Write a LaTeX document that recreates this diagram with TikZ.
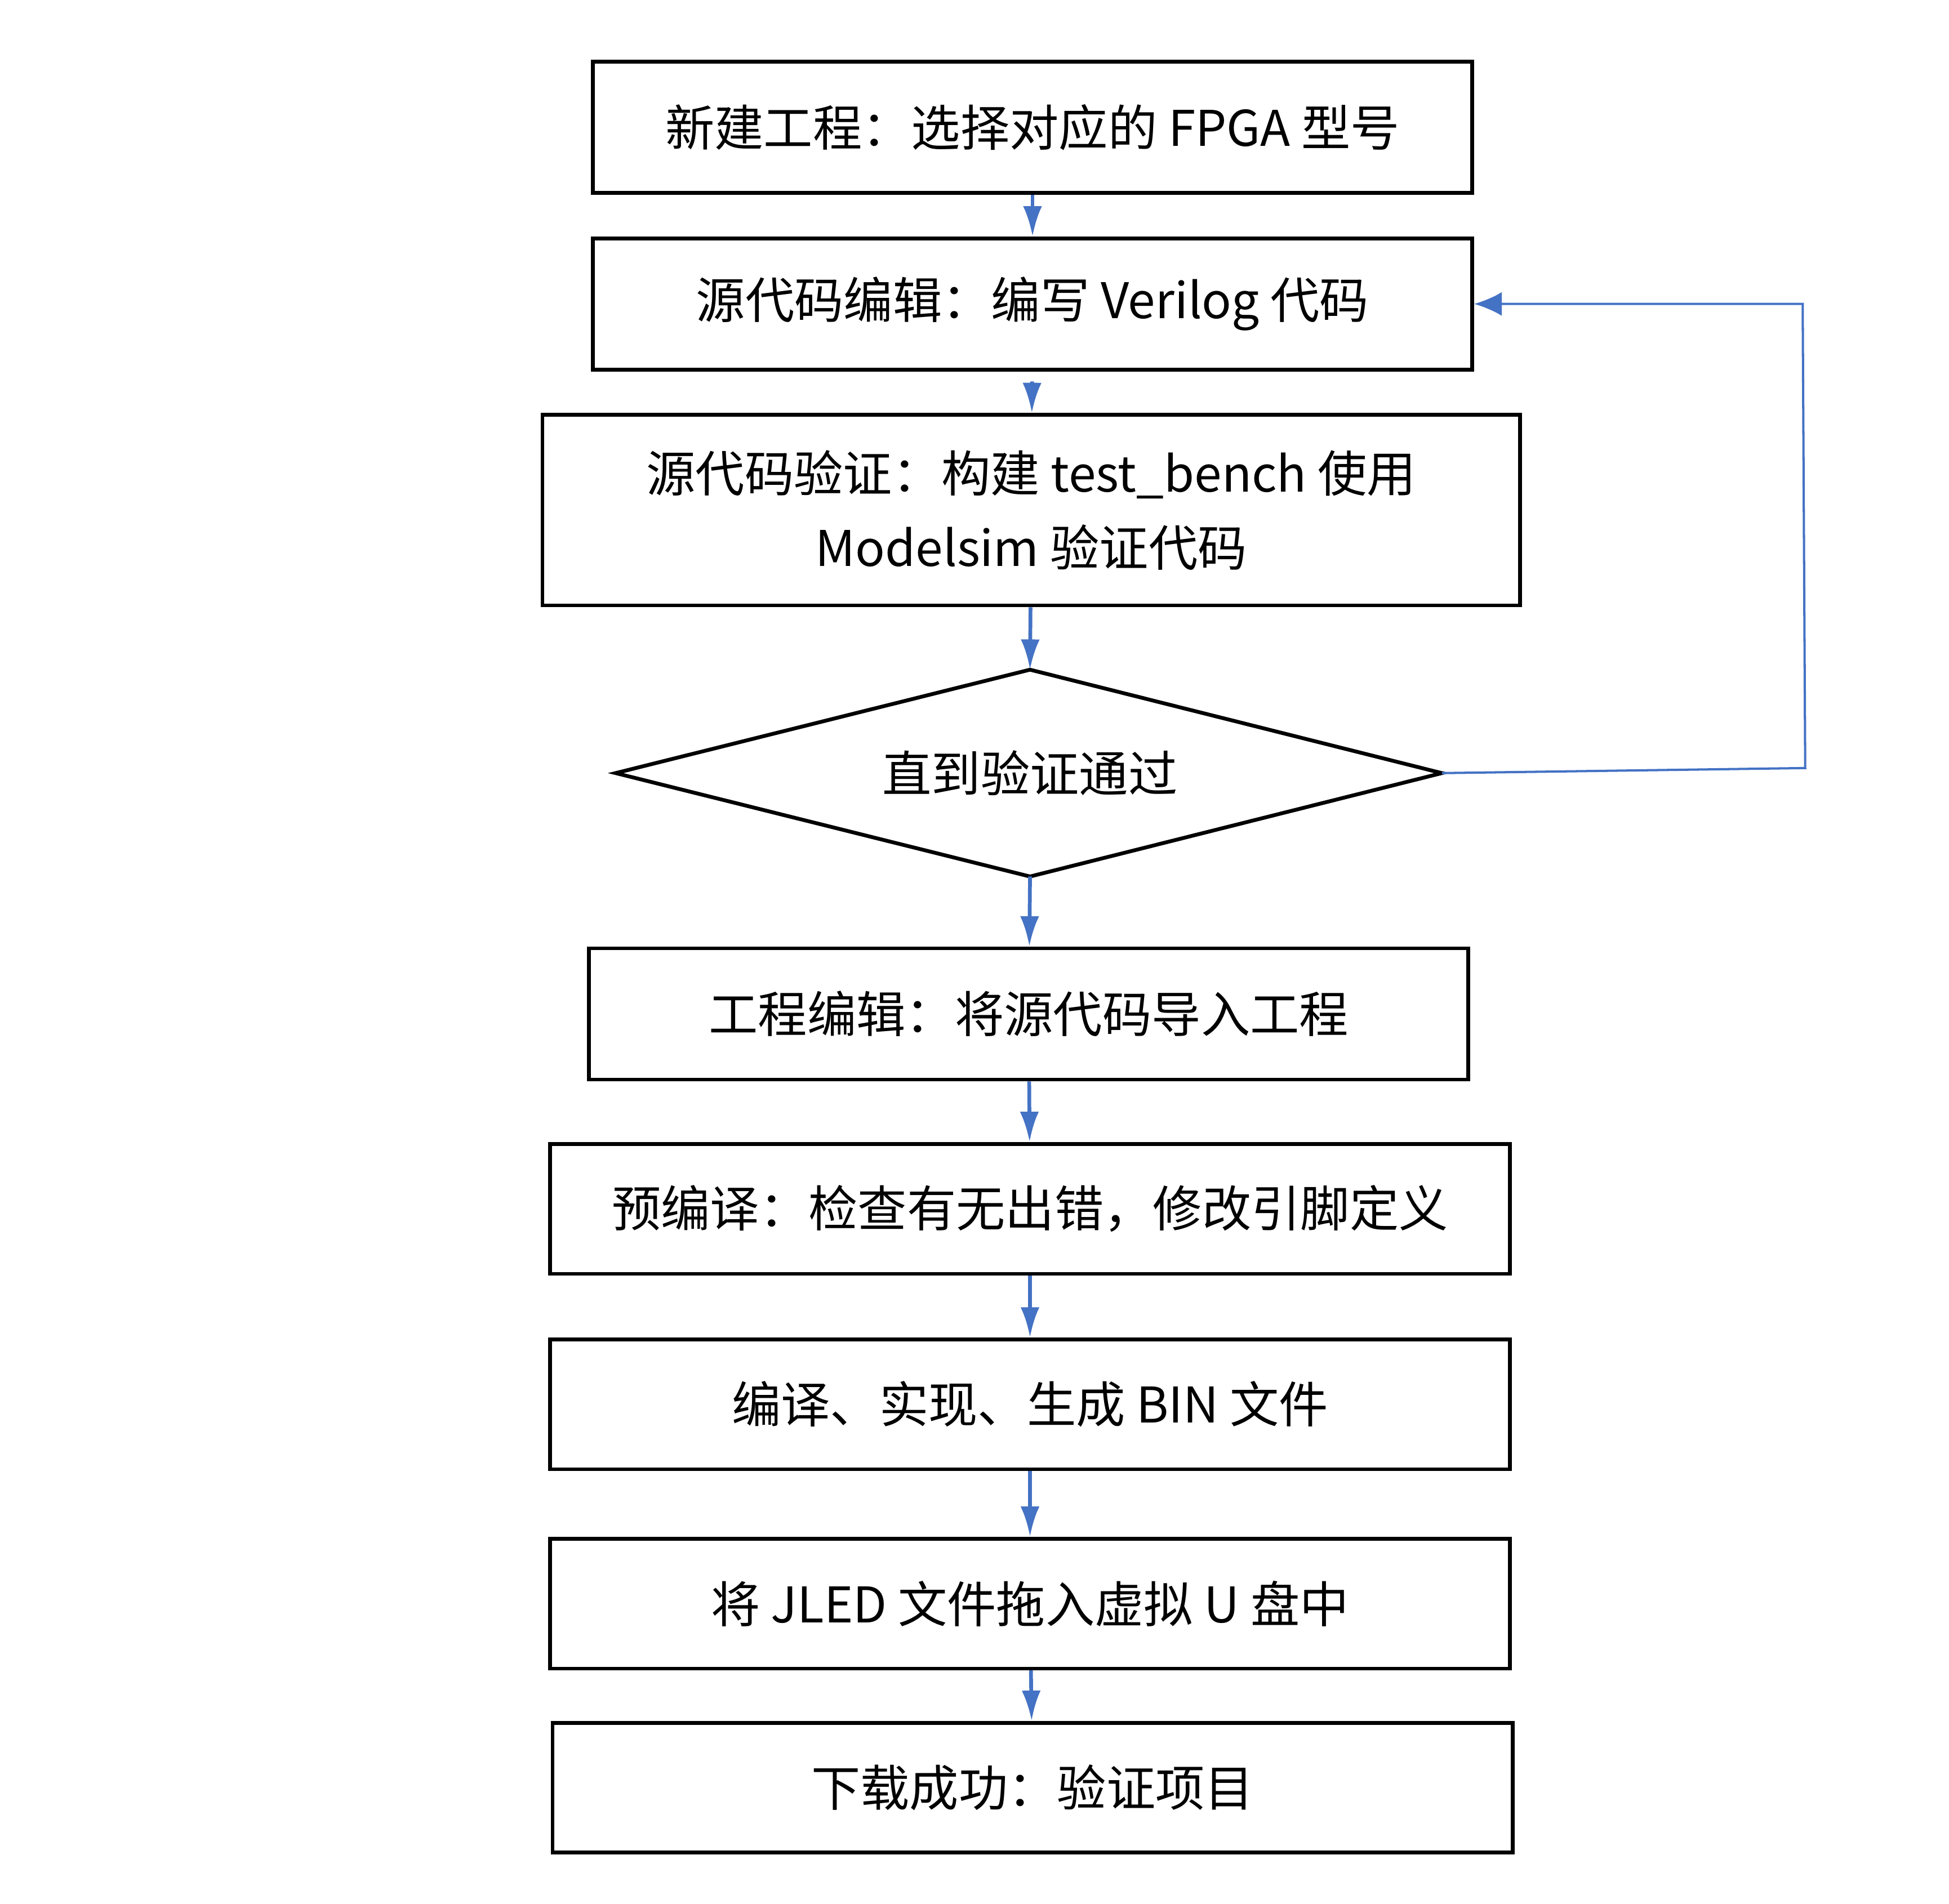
\documentclass[tikz,border=0pt]{standalone}
\usepackage{fontspec}
\setmainfont{Noto Sans CJK SC}
\usetikzlibrary{shapes.geometric,arrows.meta}
\definecolor{flowblue}{HTML}{4472C4}
\begin{document}
\begin{tikzpicture}[x=1pt,y=-1pt,
  stepbox/.style={draw=black,line width=3pt,rectangle,inner sep=0pt,align=center,
    font=\fontsize{39}{59}\selectfont},
  labeltext/.style={inner sep=0pt,align=center,font=\fontsize{39}{59}\selectfont},
  flow/.style={draw=flowblue,line width=3pt,-{Latex[length=24pt,width=15pt]}},
  back/.style={draw=flowblue,line width=1.8pt,-{Latex[length=22pt,width=19pt]}}]
\useasboundingbox (0,0) rectangle (1545,1509.7);
\node[stepbox,minimum width=697pt,minimum height=104pt] (b1) at (818.5,101) {新建工程：选择对应的 FPGA 型号};
\node[stepbox,minimum width=697pt,minimum height=104pt] (b2) at (818.5,241) {源代码编辑：编写 Verilog 代码};
\node[stepbox,minimum width=775pt,minimum height=151pt] (b3) at (817.5,404.5) {源代码验证：构建 test\_bench 使用\\Modelsim 验证代码};
% decision diamond
\coordinate (dT) at (816.5,531);
\coordinate (dB) at (816.5,695);
\coordinate (dL) at (488,613);
\coordinate (dR) at (1143,613);
\draw[black,line width=3pt,line join=miter] (dT) -- (dR) -- (dB) -- (dL) -- cycle;
\node[labeltext] (d) at (816.5,613) {直到验证通过};
\node[stepbox,minimum width=697pt,minimum height=104pt] (b4) at (815.5,804) {工程编辑：将源代码导入工程};
\node[stepbox,minimum width=761pt,minimum height=103pt] (b5) at (816.5,958.5) {预编译：检查有无出错，修改引脚定义};
\node[stepbox,minimum width=761pt,minimum height=103pt] (b6) at (816.5,1113.5) {编译、实现、生成 BIN 文件};
\node[stepbox,minimum width=761pt,minimum height=103pt] (b7) at (816.5,1271.5) {将 JLED 文件拖入虚拟 U 盘中};
\node[stepbox,minimum width=761pt,minimum height=103pt] (b8) at (818.5,1417.5) {下载成功：验证项目};
\coordinate (fb1) at (1431,609);
\coordinate (fb2) at (1429,241);
\draw[flow] (b1) -- (b2);
\draw[flow,shorten <=8pt] (b2) -- (b3);
\draw[flow] (b3) -- (dT);
\draw[flow] (dB) -- (b4);
\draw[flow] (b4) -- (b5);
\draw[flow] (b5) -- (b6);
\draw[flow] (b6) -- (b7);
\draw[flow] (b7) -- (b8);
\draw[back] (dR) -- (fb1) -- (fb2) -- (b2.east);
\end{tikzpicture}
\end{document}
